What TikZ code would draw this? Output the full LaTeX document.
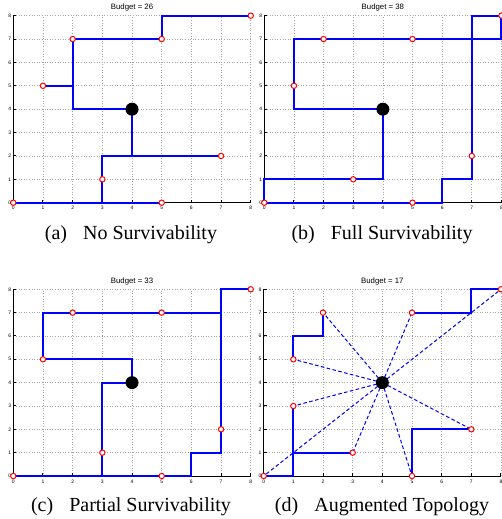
\documentclass[tikz,border=0pt]{standalone}
\usepackage{fontspec}
\setmainfont{Liberation Serif}
\setsansfont{Liberation Sans}

\tikzset{
	gridline/.style={gray!70, line width=0.3pt, densely dotted},
	axisline/.style={black, line width=0.5pt},
	route/.style={blue, line width=1pt},
	spoke/.style={blue, line width=0.5pt, dash pattern=on 1.8pt off 1.2pt},
	site/.style={circle, draw=red, fill=white, line width=0.5pt, inner sep=0pt, minimum size=2.7pt},
	hub/.style={circle, fill=black, inner sep=0pt, minimum size=6.5pt},
	ticklabel/.style={inner sep=0pt, font=\sffamily\fontsize{2.5}{3}\selectfont},
	titlelabel/.style={inner sep=0pt, font=\sffamily\fontsize{3.9}{4.5}\selectfont},
	caption/.style={inner sep=0pt, anchor=base, font=\fontsize{10}{12}\selectfont}
}

% axes, grid and title of one panel
\newcommand{\plotframe}[1]{%
	\foreach \i in {0,...,8} {
		\draw[gridline] (\i,0) -- (\i,8);
		\draw[gridline] (0,\i) -- (8,\i);
		\draw[axisline] (\i,0) -- ++(0,1.5pt);
		\draw[axisline] (0,\i) -- ++(1.5pt,0);
		\node[ticklabel, anchor=east] (ylab\i) at (-0.06,\i) {\i};
		\node[ticklabel] (xlab\i) at (\i,-0.23) {\i};
	}
	\draw[axisline] (0,8) -- (0,0) -- (8,0);
	\node[titlelabel] (title) at (4,8.35) {#1};
}

\begin{document}
\begin{tikzpicture}[x=0.5pt, y=-0.5pt]
\useasboundingbox (0,0) rectangle (502,519);

% (a)
\begin{scope}[shift={(13.3,202.7)}, x=14.84pt, y=11.69pt]
\plotframe{Budget = 26}
\draw[route] (0,0) -- (5,0);
\draw[route] (3,0) -- (3,2) -- (7,2);
\draw[route] (4,4) -- (4,2);
\draw[route] (4,4) -- (2,4) -- (2,7) -- (5,7) -- (5,8) -- (8,8);
\draw[route] (1,5) -- (2,5);
\foreach \x/\y [count=\k] in {0/0,5/0,3/1,7/2,1/5,2/7,5/7,8/8} {
	\node[site] (a\k) at (\x,\y) {};
}
\node[hub] (aroot) at (4,4) {};
\end{scope}

% (b)
\begin{scope}[shift={(264.3,202.7)}, x=14.82pt, y=11.69pt]
\plotframe{Budget = 38}
\draw[route] (4,4) -- (1,4) -- (1,7) -- (8,7) -- (8,8);
\draw[route] (4,4) -- (4,1) -- (0,1) -- (0,0);
\draw[route] (0,0) -- (6,0) -- (6,1) -- (7,1) -- (7,8) -- (8,8);
\foreach \x/\y [count=\k] in {0/0,5/0,3/1,7/2,1/5,2/7,5/7,8/8} {
	\node[site] (b\k) at (\x,\y) {};
}
\node[hub] (broot) at (4,4) {};
\end{scope}

% (c)
\begin{scope}[shift={(13.3,476)}, x=14.84pt, y=11.67pt]
\plotframe{Budget = 33}
\draw[route] (4,4) -- (4,5) -- (1,5) -- (1,7) -- (7,7);
\draw[route] (4,4) -- (3,4) -- (3,0);
\draw[route] (0,0) -- (6,0) -- (6,1) -- (7,1) -- (7,8) -- (8,8);
\foreach \x/\y [count=\k] in {0/0,5/0,3/1,7/2,1/5,2/7,5/7,8/8} {
	\node[site] (c\k) at (\x,\y) {};
}
\node[hub] (croot) at (4,4) {};
\end{scope}

% (d)
\begin{scope}[shift={(263.7,476)}, x=14.83pt, y=11.67pt]
\plotframe{Budget = 17}
\coordinate (droot) at (4,4);
\foreach \x/\y [count=\k] in {0/0,5/0,3/1,7/2,1/3,1/5,2/7,5/7,8/8} {
	\coordinate (d\k) at (\x,\y);
	\draw[spoke] (droot) -- (d\k);
}
\draw[route] (0,0) -- (1,0) -- (1,3);
\draw[route] (1,1) -- (3,1);
\draw[route] (1,5) -- (1,6) -- (2,6) -- (2,7);
\draw[route] (5,7) -- (7,7) -- (7,8) -- (8,8);
\draw[route] (5,0) -- (5,2) -- (7,2);
\foreach \k in {1,...,9} {
	\node[site] (sd\k) at (d\k) {};
}
\node[hub] (dhub) at (droot) {};
\end{scope}

\node[caption] (capa) at (131,239) {(a)\hspace{8pt}No Survivability};
\node[caption] (capb) at (382,239) {(b)\hspace{8pt}Full Survivability};
\node[caption] (capc) at (131,511.5) {(c)\hspace{8pt}Partial Survivability};
\node[caption] (capd) at (382,511.5) {(d)\hspace{8pt}Augmented Topology};

\end{tikzpicture}
\end{document}
